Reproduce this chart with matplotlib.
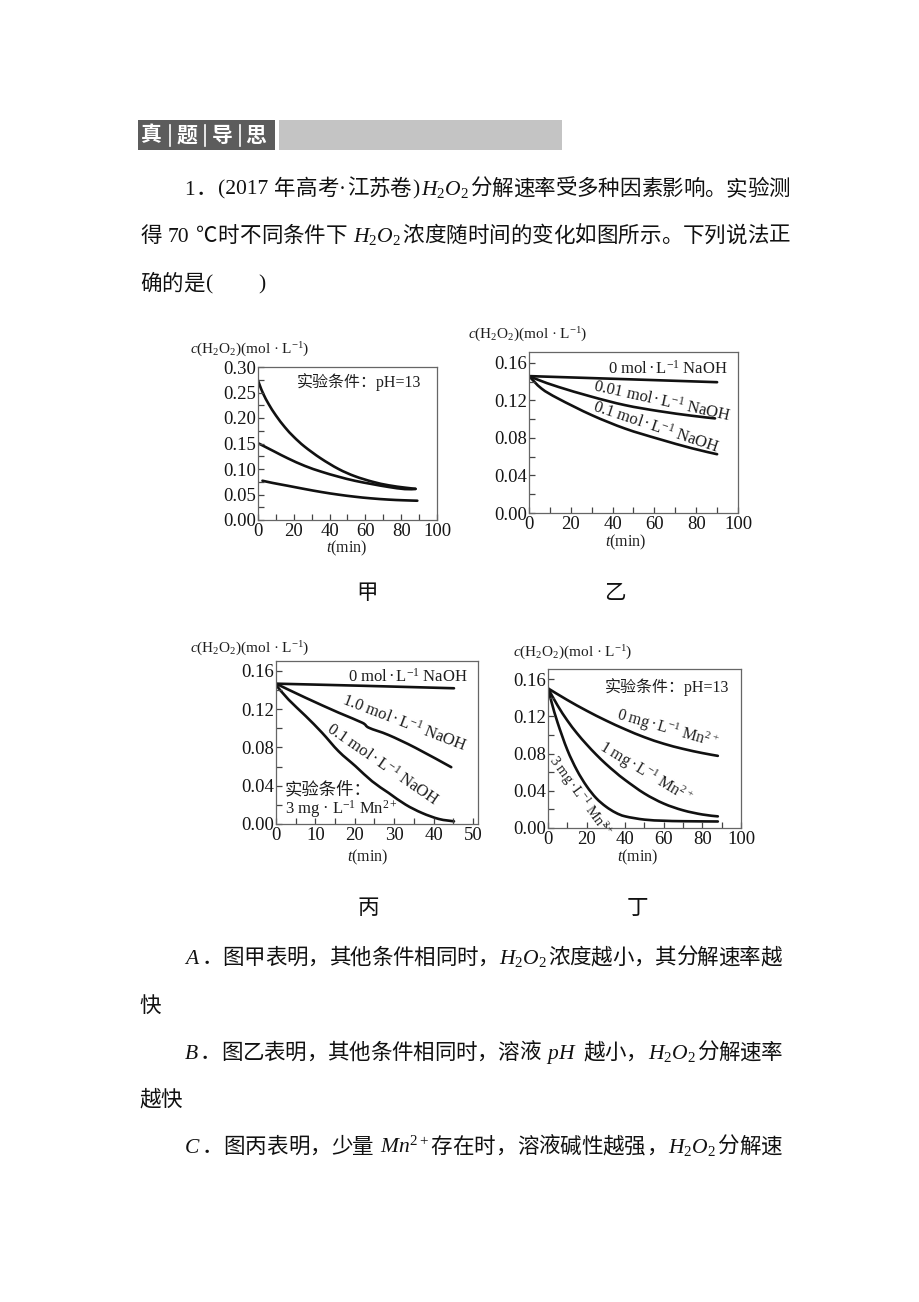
import matplotlib
matplotlib.use('Agg')
import matplotlib.pyplot as plt
from matplotlib.patches import Rectangle, PathPatch
from matplotlib.path import Path
from matplotlib.lines import Line2D
from matplotlib.ticker import MultipleLocator, FormatStrFormatter

plt.rcParams['font.family'] = ['Liberation Serif', 'Noto Sans CJK SC', 'DejaVu Sans']
plt.rcParams['mathtext.fontset'] = 'custom'
plt.rcParams['mathtext.rm'] = 'Liberation Serif'
plt.rcParams['mathtext.it'] = 'Liberation Serif:italic'
plt.rcParams['mathtext.bf'] = 'Liberation Serif:bold'

# ---------------- data ----------------
# 甲 (pH=13)
jia_t1 = [0, 1, 3, 6, 10, 15, 20, 26, 35, 45, 54, 64, 73, 82, 88]
jia_c1 = [0.274, 0.264, 0.247, 0.227, 0.205, 0.182, 0.163, 0.144, 0.121, 0.100, 0.086, 0.075, 0.068, 0.0635, 0.0612]
jia_t2 = [0.4, 9.3, 16.8, 26.2, 35.5, 44.9, 54, 63.6, 72.9, 82, 88]
jia_c2 = [0.150, 0.134, 0.1207, 0.106, 0.0946, 0.085, 0.077, 0.0705, 0.0648, 0.0606, 0.0608]
jia_t3 = [2.5, 8, 16.8, 26, 35.5, 45, 54, 63, 72.9, 81, 89]
jia_c3 = [0.077, 0.0728, 0.067, 0.0608, 0.0548, 0.0497, 0.0457, 0.0425, 0.040, 0.0387, 0.0378]

# 乙 (NaOH concentration)
yi_t0 = [0, 45, 90]
yi_c0 = [0.146, 0.1428, 0.1395]
yi_t1 = [0, 5, 14, 30, 46, 62, 78, 89]
yi_c1 = [0.146, 0.1415, 0.1345, 0.124, 0.115, 0.1087, 0.1037, 0.1009]
yi_t2 = [0, 6, 14, 30, 46, 62, 78, 90]
yi_c2 = [0.146, 0.1327, 0.122, 0.1044, 0.090, 0.079, 0.069, 0.0627]
yi_labels = [r"$\mathrm{0\ mol\,·\,L^{-1}\ NaOH}$",
             r"$\mathrm{0.01\ mol\,·\,L^{-1}\ NaOH}$",
             r"$\mathrm{0.1\ mol\,·\,L^{-1}\ NaOH}$"]

# 丙 (3 mg/L Mn2+)
bing_t0 = [0, 22, 45.2]
bing_c0 = [0.1467, 0.1445, 0.1419]
bing_t1 = [0, 7.5, 15.9, 21.9, 23.6, 28.6, 35.4, 44.5]
bing_c1 = [0.1467, 0.132, 0.1164, 0.1059, 0.1006, 0.093, 0.0797, 0.0594]
bing_t2 = [0, 3.2, 7.5, 11.7, 15.9, 20.2, 24.4, 28.6, 32.9, 37.1, 41.4, 45.2]
bing_c2 = [0.1453, 0.130, 0.113, 0.0954, 0.076, 0.0604, 0.0447, 0.0325, 0.0203, 0.0115, 0.0052, 0.0028]
bing_labels = [r"$\mathrm{0\ mol\,·\,L^{-1}\ NaOH}$",
               r"$\mathrm{1.0\ mol\,·\,L^{-1}\ NaOH}$",
               r"$\mathrm{0.1\ mol\,·\,L^{-1}\ NaOH}$"]

# 丁 (pH=13, Mn2+)
ding_t0 = [0, 10, 20, 30, 40, 50, 60, 70, 80, 88]
ding_c0 = [0.150, 0.1375, 0.126, 0.1155, 0.106, 0.0975, 0.0905, 0.085, 0.0805, 0.0775]
ding_t1 = [0, 5, 10, 15, 20, 25, 30, 35, 40, 50, 60, 70, 80, 88]
ding_c1 = [0.150, 0.1315, 0.1155, 0.1018, 0.0898, 0.0788, 0.0688, 0.0598, 0.0515, 0.0370, 0.0262, 0.0190, 0.0145, 0.0125]
ding_t2 = [0, 2, 5, 10, 15, 20, 25, 30, 35, 40, 50, 60, 70, 88]
ding_c2 = [0.150, 0.134, 0.113, 0.084, 0.062, 0.045, 0.032, 0.023, 0.0165, 0.0125, 0.009, 0.0078, 0.0073, 0.007]
ding_labels = [r"$\mathrm{0\ mg\,·\,L^{-1}\ Mn^{2+}}$",
               r"$\mathrm{1\ mg\,·\,L^{-1}\ Mn^{2+}}$",
               r"$\mathrm{3\ mg\,·\,L^{-1}\ Mn^{2+}}$"]

ytitle = r"$c\mathrm{(H_2O_2)(mol\ ·\ L^{-1})}$"
xtitle = r"$t\mathrm{(min)}$"
captions = ["甲", "乙", "丙", "丁"]
cond_ph = "实验条件：pH=13"

H2O2 = r"$H_{\mathrm{2}}O_{\mathrm{2}}$"
body_lines = [
    [('t', "1．(2017 年高考·江苏卷)"), ('m', H2O2), ('t', "分解速率受多种因素影响。实验测")],
    [('t', "得 70 ℃时不同条件下 "), ('m', H2O2), ('t', "浓度随时间的变化如图所示。下列说法正")],
    [('t', "确的是(\u3000\u3000)")],
    [('m', r"$A$"), ('t', "．图甲表明，其他条件相同时，"), ('m', H2O2), ('t', "浓度越小，其分解速率越")],
    [('t', "快")],
    [('m', r"$B$"), ('t', "．图乙表明，其他条件相同时，溶液 "), ('m', r"$pH$"), ('t', " 越小，"), ('m', H2O2), ('t', "分解速率")],
    [('t', "越快")],
    [('m', r"$C$"), ('t', "．图丙表明，少量 "), ('m', r"$Mn^{\mathrm{2+}}$"), ('t', "存在时，溶液碱性越强，"), ('m', H2O2), ('t', "分解速")],
]

# ---------------- figure ----------------
W, H = 920, 1302
fig = plt.figure(figsize=(W / 100, H / 100), dpi=100)
fig.patch.set_facecolor('white')
renderer = fig.canvas.get_renderer()


def fx(px):
    return px / W


def fy(py):
    return 1 - py / H


TXT = '#111111'
CTXT = '#1e1e1e'

# ---------------- header ----------------
fig.add_artist(Rectangle((fx(138), fy(150)), (275 - 138) / W, 30 / H,
                         transform=fig.transFigure, facecolor='#5c5c5c', edgecolor='none'))
fig.add_artist(Rectangle((fx(279), fy(150)), (562 - 279) / W, 30 / H,
                         transform=fig.transFigure, facecolor='#c4c4c4', edgecolor='none'))
for ch, cx in zip("真题导思", [151, 187, 222, 256]):
    fig.text(fx(cx), fy(135), ch, color='white', fontsize=15, fontweight='bold',
             family=['Noto Sans CJK SC'], ha='center', va='center')
for sx in [170, 205, 240]:
    fig.add_artist(Line2D([fx(sx), fx(sx)], [fy(125), fy(146)], transform=fig.transFigure,
                          color='white', lw=1.2))

# ---------------- body text ----------------
BODY = 15.5
EM = BODY * 100 / 72.0


def is_cjk(ch):
    o = ord(ch)
    return o >= 0x2E80 or ch in "℃"


def measure(s):
    t = fig.text(0, 0, s, fontsize=BODY)
    bb = t.get_window_extent(renderer)
    t.remove()
    return bb.width


def draw_line(x0, cy, segs, right=None):
    toks = []
    for kind, s in segs:
        if kind == 'm':
            toks.append(['m', s, measure(s) + 0.1 * EM])
        else:
            buf = ''
            for ch in s:
                if is_cjk(ch):
                    if buf:
                        toks.append(['l', buf, measure(buf) + 0.1 * EM]); buf = ''
                    toks.append(['c', ch, EM])
                elif ch == ' ':
                    if buf:
                        toks.append(['l', buf, measure(buf) + 0.1 * EM]); buf = ''
                    toks.append(['s', ch, 0.25 * EM])
                else:
                    buf += ch
            if buf:
                toks.append(['l', buf, measure(buf) + 0.1 * EM])
    natural = sum(t[2] for t in toks)
    extra = 0.0
    if right is not None and len(toks) > 1:
        extra = (right - x0 - natural) / (len(toks) - 1)
    base = cy + 0.36 * EM
    x = x0
    for kind, s, w in toks:
        if kind == 'c':
            fig.text(fx(x + w / 2), fy(base), s, fontsize=BODY, ha='center', va='baseline',
                     color=TXT, family=['Noto Sans CJK SC'])
        elif kind in ('l', 'm'):
            fig.text(fx(x + 0.05 * EM), fy(base), s, fontsize=BODY, ha='left', va='baseline', color=TXT)
        x += w + extra


line_specs = [(183, 187, 790), (140, 234, 790), (140, 282, None),
              (183, 956, 782), (139, 1004, None), (183, 1051, 782),
              (139, 1098, None), (183, 1145, 782)]
for (x0, cy, right), segs in zip(line_specs, body_lines):
    draw_line(x0, cy, segs, right)

# ---------------- charts ----------------


def make_axes(box, xlim, ylim, xmaj, xmin, ymaj, ymin):
    l, t, r, b = box
    ax = fig.add_axes([fx(l), fy(b), (r - l) / W, (b - t) / H])
    ax.set_xlim(*xlim)
    ax.set_ylim(*ylim)
    ax.xaxis.set_major_locator(MultipleLocator(xmaj))
    ax.xaxis.set_minor_locator(MultipleLocator(xmin))
    ax.yaxis.set_major_locator(MultipleLocator(ymaj))
    ax.yaxis.set_minor_locator(MultipleLocator(ymin))
    ax.yaxis.set_major_formatter(FormatStrFormatter('%.2f'))
    ax.tick_params(which='both', direction='in', top=False, right=False, width=0.9,
                   length=4, color='#444', labelsize=13.5, labelcolor='#151515')
    ax.tick_params(axis='x', which='major', pad=2)
    ax.tick_params(axis='y', which='major', pad=1.5)
    for sp in ax.spines.values():
        sp.set_color('#666')
        sp.set_linewidth(0.9)
    ax.set_facecolor('white')
    return ax


LW = 1.9
LC = '#111111'
CL = 12  # curve label size


def smooth_curve(ax, xs, ys):
    # Catmull-Rom through the read points, drawn as cubic Bezier segments
    pts = list(zip(xs, ys))
    n = len(pts)
    verts = [pts[0]]
    codes = [Path.MOVETO]
    for i in range(n - 1):
        p0 = pts[i - 1] if i > 0 else pts[i]
        p1 = pts[i]
        p2 = pts[i + 1]
        p3 = pts[i + 2] if i + 2 < n else pts[i + 1]
        c1 = (p1[0] + (p2[0] - p0[0]) / 6.0, p1[1] + (p2[1] - p0[1]) / 6.0)
        c2 = (p2[0] - (p3[0] - p1[0]) / 6.0, p2[1] - (p3[1] - p1[1]) / 6.0)
        verts += [c1, c2, p2]
        codes += [Path.CURVE4] * 3
    ax.add_patch(PathPatch(Path(verts, codes), fill=False, edgecolor=LC, lw=LW,
                           capstyle='round', joinstyle='round'))


# 甲
ax1 = make_axes((258, 367, 437, 520), (0, 100), (0, 0.30), 20, 10, 0.05, 0.025)
smooth_curve(ax1, jia_t1, jia_c1)
smooth_curve(ax1, jia_t2, jia_c2)
smooth_curve(ax1, jia_t3, jia_c3)
fig.text(fx(359), fy(382), cond_ph, fontsize=11.5, ha='center', va='center', color=CTXT)
fig.text(fx(190), fy(350), ytitle, fontsize=11, ha='left', va='center', color=CTXT)
fig.text(fx(347), fy(548), xtitle, fontsize=11.5, ha='center', va='center', color=CTXT)

# 乙
ax2 = make_axes((529, 352, 738, 513), (0, 100), (0, 0.1717), 20, 10, 0.04, 0.02)
smooth_curve(ax2, yi_t0, yi_c0)
smooth_curve(ax2, yi_t1, yi_c1)
smooth_curve(ax2, yi_t2, yi_c2)
for lab, (cx, cy, rot) in zip(yi_labels, [(668, 369, 0), (662, 401, -12.5), (656, 427, -18.5)]):
    fig.text(fx(cx), fy(cy), lab, fontsize=CL, ha='center', va='center', rotation=rot,
             rotation_mode='anchor', color=CTXT)
fig.text(fx(468), fy(335), ytitle, fontsize=11, ha='left', va='center', color=CTXT)
fig.text(fx(626), fy(542), xtitle, fontsize=11.5, ha='center', va='center', color=CTXT)

# 丙
ax3 = make_axes((276, 661, 478, 824), (0, 51.3), (0, 0.1704), 10, 5, 0.04, 0.02)
smooth_curve(ax3, bing_t0, bing_c0)
smooth_curve(ax3, bing_t1, bing_c1)
smooth_curve(ax3, bing_t2, bing_c2)
for lab, (cx, cy, rot) in zip(bing_labels, [(408, 677, 0), (404, 723, -21), (383, 764, -34.5)]):
    fig.text(fx(cx), fy(cy), lab, fontsize=CL, ha='center', va='center', rotation=rot,
             rotation_mode='anchor', color=CTXT)
fig.text(fx(285), fy(790), "实验条件：", fontsize=12.5, ha='left', va='center', color=CTXT)
fig.text(fx(285), fy(809), r"$\mathrm{3\ mg\ ·\ L^{-1}\ Mn^{2+}}$", fontsize=12,
         ha='left', va='center', color=CTXT)
fig.text(fx(190), fy(649), ytitle, fontsize=11, ha='left', va='center', color=CTXT)
fig.text(fx(368), fy(857), xtitle, fontsize=11.5, ha='center', va='center', color=CTXT)

# 丁
ax4 = make_axes((548, 669, 741, 828), (0, 100), (0, 0.1708), 20, 10, 0.04, 0.02)
smooth_curve(ax4, ding_t0, ding_c0)
smooth_curve(ax4, ding_t1, ding_c1)
smooth_curve(ax4, ding_t2, ding_c2)
for lab, (cx, cy, rot, fs) in zip(ding_labels, [(667, 729, -16, 11.5), (645, 773, -31, 11.5),
                                                (580, 796, -54, 10.5)]):
    fig.text(fx(cx), fy(cy), lab, fontsize=fs, ha='center', va='center', rotation=rot,
             rotation_mode='anchor', color=CTXT)
fig.text(fx(667), fy(687), cond_ph, fontsize=11.5, ha='center', va='center', color=CTXT)
fig.text(fx(513), fy(653), ytitle, fontsize=11, ha='left', va='center', color=CTXT)
fig.text(fx(638), fy(857), xtitle, fontsize=11.5, ha='center', va='center', color=CTXT)

# captions
for cap, (cx, cy) in zip(captions, [(367, 593), (615, 593), (368, 908), (637, 908)]):
    fig.text(fx(cx), fy(cy), cap, fontsize=BODY, ha='center', va='center', color=TXT,
             family=['Noto Sans CJK SC'])

fig.savefig('out.png', dpi=100, facecolor='white')
